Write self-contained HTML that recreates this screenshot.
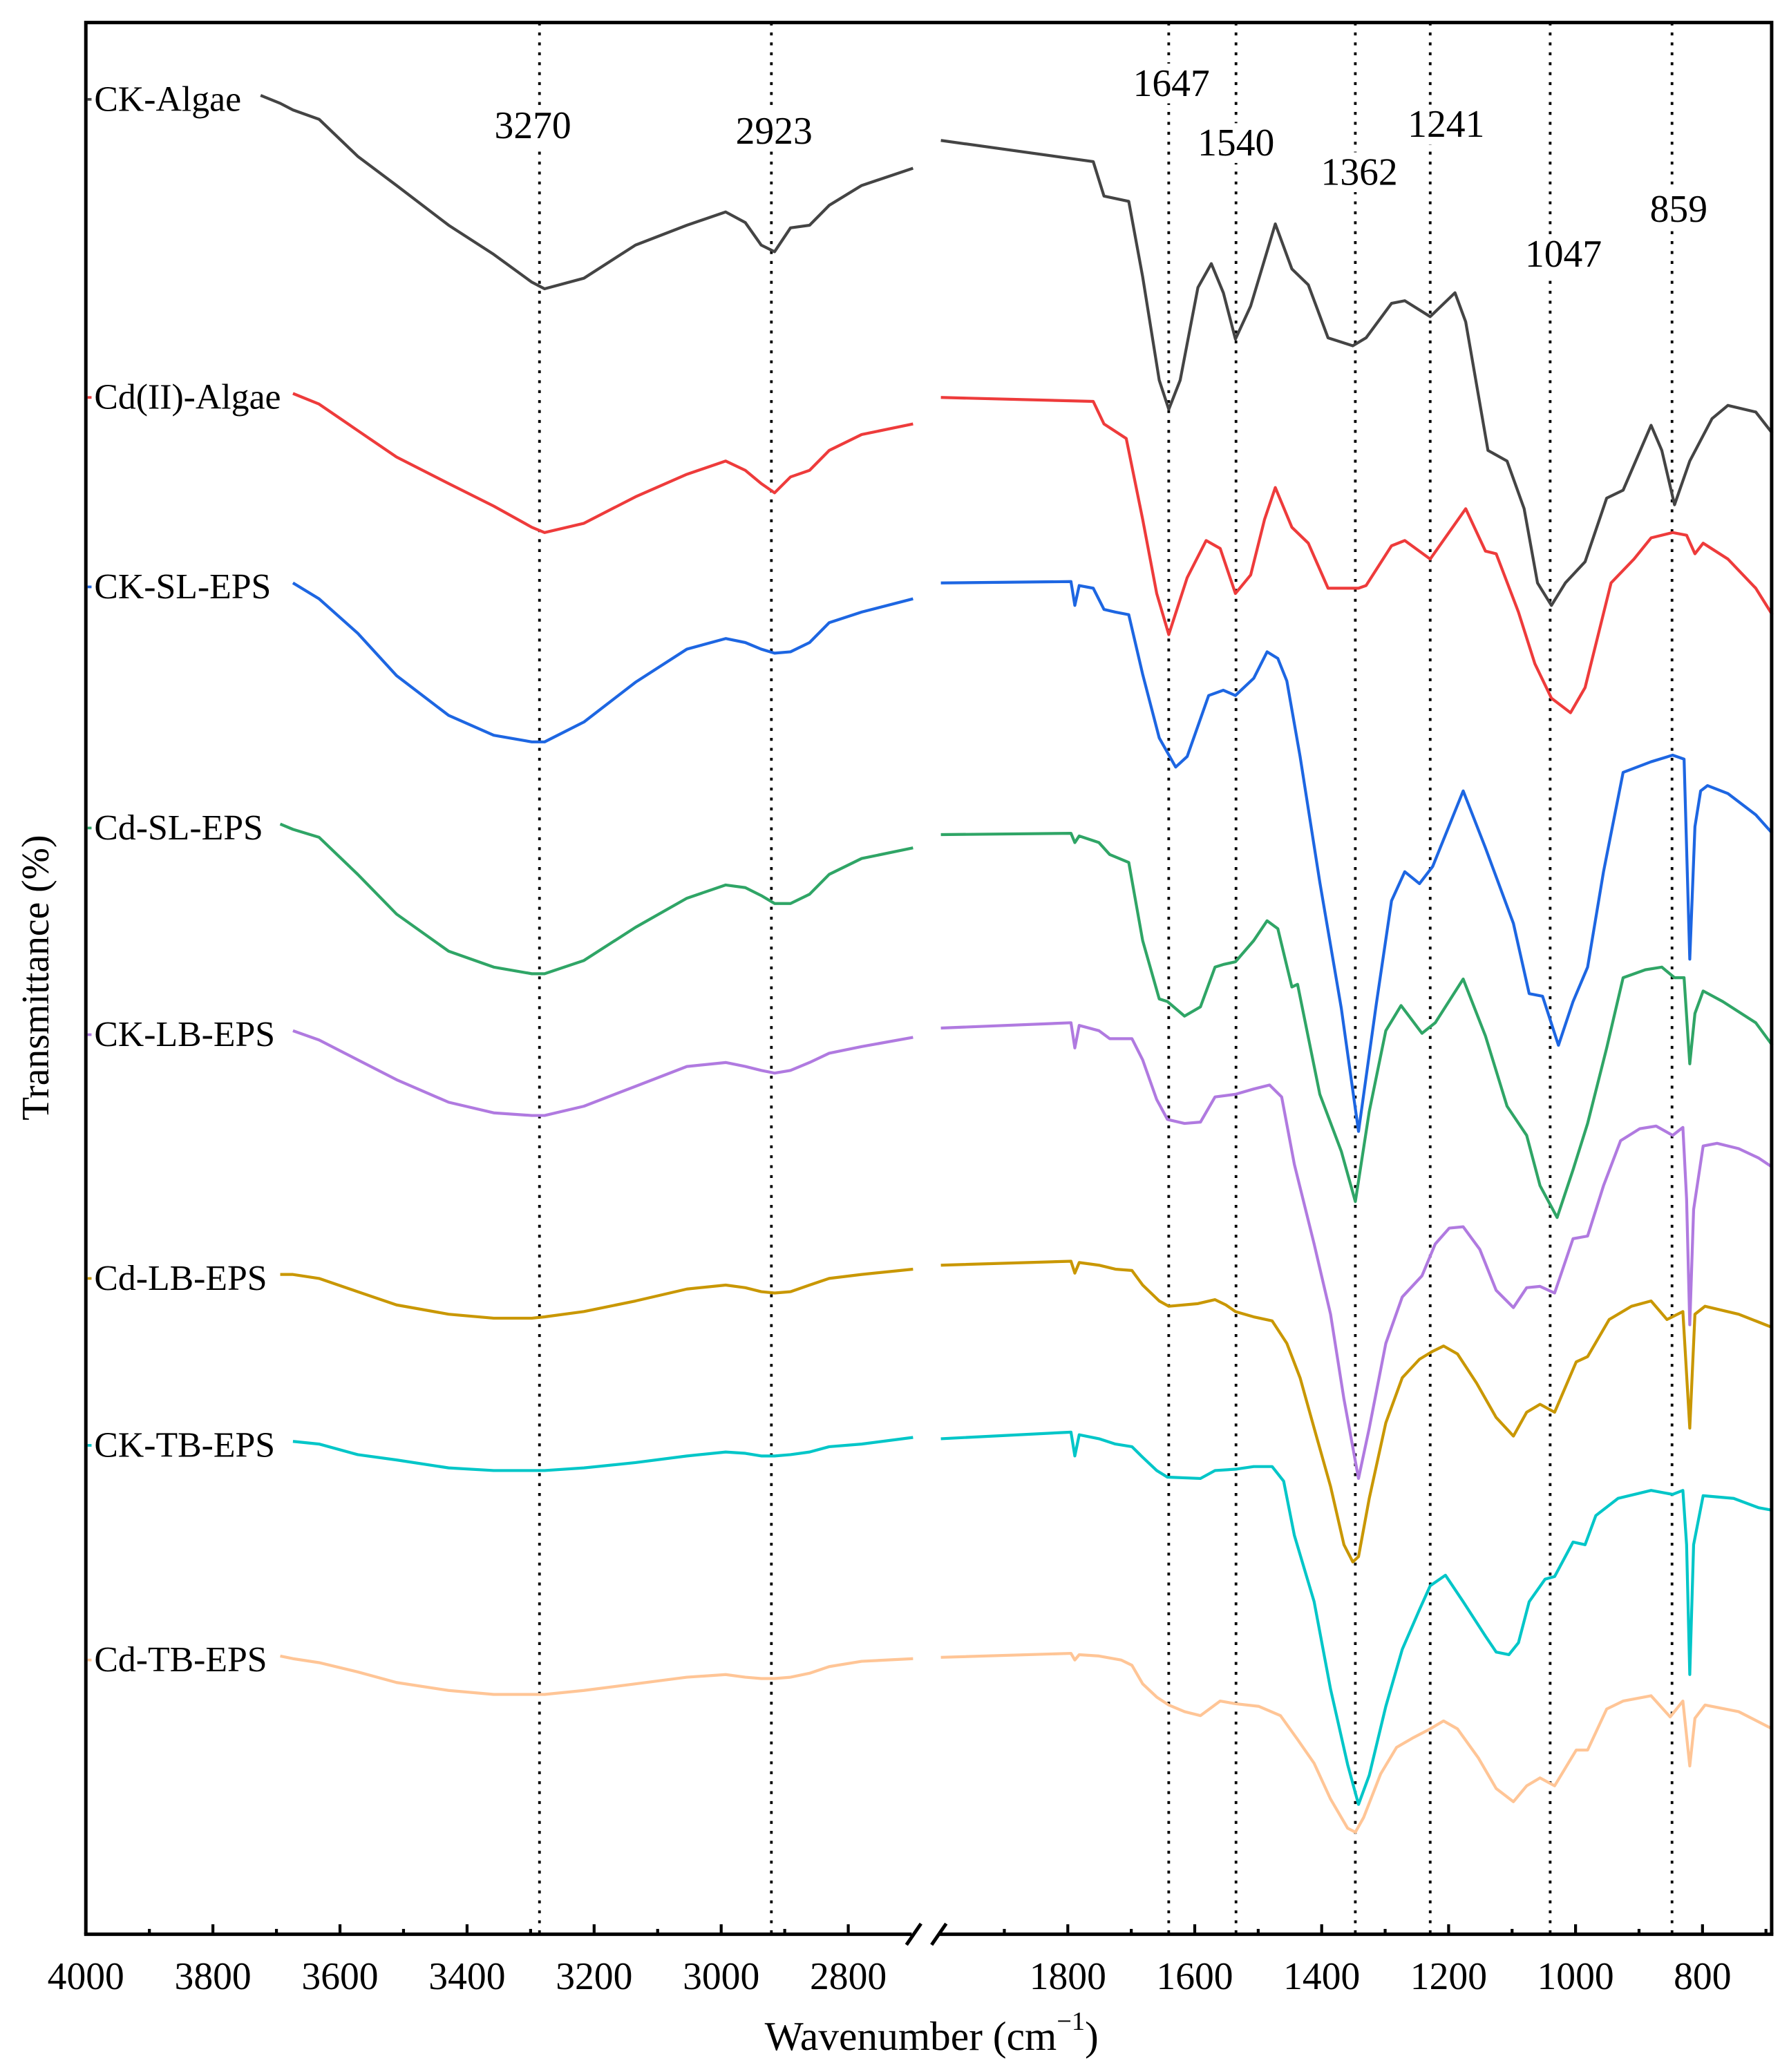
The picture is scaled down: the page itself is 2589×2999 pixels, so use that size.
<!DOCTYPE html>
<html><head><meta charset="utf-8"><style>
html,body{margin:0;padding:0;background:#fff;}
svg{display:block;font-family:"Liberation Serif",serif;}
</style></head><body>
<svg id="chart" width="2589" height="2999" viewBox="0 0 1350 1564" xmlns="http://www.w3.org/2000/svg"></svg>
<script>
// ---- data ----
const seriesNames = ["CK-Algae","Cd(II)-Algae","CK-SL-EPS","Cd-SL-EPS","CK-LB-EPS","Cd-LB-EPS","CK-TB-EPS","Cd-TB-EPS"];
const seriesColors = ["#444444","#ee3b3b","#1d66e2","#2fa566","#b07ae0","#c99700","#00c6c8","#ffc596"];
const wnLeft = [3725,3694,3674,3633,3572,3511,3429,3358,3298,3278,3216,3135,3054,2993,2962,2937,2916,2891,2861,2830,2779,2698];
const ckAlgaeLeft = [1388,1382,1377,1370,1342,1320,1290,1268,1247,1242,1250,1275,1290,1300,1292,1275,1270,1288,1290,1305,1320,1333];
const cdAlgaeLeft = [null,null,1163,1155,1135,1115,1095,1078,1062,1058,1065,1085,1102,1112,1105,1095,1088,1100,1105,1120,1132,1140];
const ckSlLeft = [null,null,1020,1008,982,950,920,905,900,900,915,945,970,978,975,970,967,968,975,990,998,1008];
const cdSlLeft = [null,838,834,828,800,770,742,730,725,725,735,760,782,792,790,784,778,778,785,800,812,820];
const ckLbLeft = [null,null,682,675,660,645,628,620,618,618,625,640,655,658,655,652,650,652,658,665,670,677];
const cdLbLeft = [null,498,498,495,485,475,468,465,465,466,470,478,487,490,488,485,484,485,490,495,498,502];
const ckTbLeft = [null,null,372,370,362,358,352,350,350,350,352,356,361,364,363,361,361,362,364,368,370,375];
const cdTbLeft = [null,210,208,205,198,190,184,181,181,181,184,189,194,196,194,193,193,194,197,202,206,208];

const ckAlgaeWn = [2000,1760,1743,1704,1682,1656,1641,1623,1595,1574,1555,1536,1512,1473,1447,1421,1390,1351,1330,1290,1269,1229,1190,1173,1138,1108,1081,1060,1038,1016,985,951,925,881,864,844,820,785,760,716,690];
const ckAlgaeRight = [1354,1338,1312,1308,1251,1173,1151,1173,1243,1261,1239,1204,1229,1291,1257,1245,1205,1199,1205,1231,1233,1221,1239,1217,1120,1112,1076,1020,1003,1020,1036,1084,1090,1139,1120,1079,1112,1144,1154,1149,1133];
const cdAlgaeWn = [2000,1760,1743,1708,1682,1660,1641,1612,1582,1560,1536,1512,1490,1473,1447,1421,1390,1342,1330,1290,1269,1229,1173,1142,1125,1090,1064,1038,1008,985,944,908,881,847,825,812,799,760,716,690];
const cdAlgaeRight = [1160,1157,1140,1129,1068,1012,981,1024,1052,1046,1012,1026,1068,1092,1062,1050,1016,1016,1018,1048,1052,1038,1076,1044,1042,998,959,933,922,941,1020,1038,1054,1058,1056,1042,1050,1038,1016,996];
const ckSlWn = [2000,1795,1789,1782,1760,1743,1725,1704,1682,1656,1630,1612,1578,1555,1536,1507,1486,1469,1455,1434,1403,1369,1342,1314,1290,1269,1246,1225,1177,1142,1098,1073,1052,1027,1004,981,956,925,881,847,829,820,812,803,792,760,716,690];
const ckSlRight = [1020,1021,1003,1018,1016,1000,998,996,951,903,881,889,935,939,935,948,968,963,946,889,794,699,606,702,780,802,793,806,863,820,763,710,708,671,704,730,802,877,885,890,887,736,836,863,867,861,845,831];
const cdSlWn = [2000,1795,1789,1782,1751,1734,1704,1682,1656,1643,1616,1591,1568,1555,1536,1507,1486,1469,1447,1438,1403,1369,1347,1325,1299,1275,1242,1221,1177,1142,1108,1077,1056,1029,1004,981,951,925,890,864,844,829,820,812,799,768,716,690];
const cdSlRight = [830,831,824,829,824,815,809,750,706,704,693,700,730,732,734,750,765,759,715,717,634,591,553,621,682,701,680,688,721,678,625,603,565,541,577,612,669,722,728,730,722,722,657,695,712,704,688,671];
const ckLbWn = [2000,1795,1789,1782,1751,1734,1699,1682,1660,1643,1616,1591,1568,1536,1507,1482,1463,1443,1412,1386,1365,1342,1325,1299,1273,1242,1221,1199,1177,1151,1125,1098,1077,1056,1033,1004,981,956,929,899,873,847,831,825,820,814,799,777,743,712,690];
const ckLbRight = [684,688,669,686,682,676,676,660,630,615,612,613,632,634,638,641,632,581,521,468,404,344,382,446,481,497,521,533,534,517,486,473,488,489,484,525,527,565,599,608,610,603,609,555,460,547,595,597,593,586,579];
const cdLbWn = [2000,1795,1789,1782,1751,1725,1699,1682,1656,1641,1595,1568,1551,1536,1507,1478,1455,1434,1412,1386,1365,1351,1342,1325,1299,1273,1246,1225,1208,1186,1156,1125,1098,1077,1056,1033,999,981,947,912,881,856,831,820,812,796,743,690];
const cdLbRight = [505,508,499,507,505,502,501,490,478,474,476,479,475,470,466,463,446,420,382,338,294,281,285,329,386,420,434,440,444,438,416,390,376,394,400,394,432,436,464,474,478,464,470,382,468,474,468,458];
const ckTbWn = [2000,1795,1789,1782,1751,1725,1699,1682,1660,1643,1591,1568,1536,1507,1478,1460,1443,1412,1386,1359,1342,1325,1299,1273,1246,1229,1205,1177,1142,1125,1105,1090,1073,1048,1033,1004,985,968,933,881,847,831,825,820,814,799,751,712,690];
const ckTbRight = [374,379,361,377,374,370,368,360,350,345,344,350,351,353,353,342,301,251,185,128,98,120,172,215,245,263,271,251,225,213,211,220,251,268,270,296,294,316,329,335,332,335,294,196,294,331,329,322,320];
const cdTbWn = [2000,1795,1789,1782,1751,1716,1699,1682,1660,1641,1616,1591,1560,1536,1499,1465,1438,1412,1386,1359,1347,1334,1307,1282,1257,1229,1208,1186,1153,1125,1098,1077,1056,1033,999,981,951,925,881,851,831,820,812,796,743,690];
const cdTbRight = [209,212,207,211,210,207,203,189,179,173,168,165,176,174,172,165,147,129,102,80,77,88,121,141,148,155,161,155,133,110,100,112,118,112,139,139,170,176,180,164,176,127,163,173,168,155];

const peakLines = [3286,2921,1641,1535,1347,1229,1040,848];
const peakLabels = ["3270","2923","1647","1540","1362","1241","1047","859"];
const peakLabelY = [95,99,63,108,130,94,192,158];
const peakLabelDx = [-5,2,2,0,3,12,10,5];
const leftTicks = [4000,3800,3600,3400,3200,3000,2800];
const leftMinor = [3900,3700,3500,3300,3100,2900];
const rightTicks = [1800,1600,1400,1200,1000,800];
const rightMinor = [1900,1700,1500,1300,1100,900,700];

// ---- axes ----
const X0 = 64.7, XR = 1337, YT = 17, YB = 1460;
function xL(w){ return X0 + (4000 - w) * 0.4795; }
function xR(w){ return 805.8 + (1800 - w) * 0.479; }
function yS(v){ return YB - v; }

const svg = document.getElementById('chart');
const NS = "http://www.w3.org/2000/svg";
function mk(tag, attrs){ const e=document.createElementNS(NS,tag); for(const k in attrs) e.setAttribute(k,attrs[k]); svg.appendChild(e); return e; }

// peak dotted lines
peakLines.forEach((w,i)=>{
  const x = i < 2 ? xL(w) : xR(w);
  const l = mk('line',{x1:x,x2:x,y1:YT,y2:YB,stroke:'#000','stroke-width':2,'stroke-dasharray':'2.2 5.3'});
  
  
});

// series
const leftData = [ckAlgaeLeft,cdAlgaeLeft,ckSlLeft,cdSlLeft,ckLbLeft,cdLbLeft,ckTbLeft,cdTbLeft];
const rightWn = [ckAlgaeWn,cdAlgaeWn,ckSlWn,cdSlWn,ckLbWn,cdLbWn,ckTbWn,cdTbWn];
const rightData = [ckAlgaeRight,cdAlgaeRight,ckSlRight,cdSlRight,ckLbRight,cdLbRight,ckTbRight,cdTbRight];
seriesNames.forEach((name,i)=>{
  const col = seriesColors[i];
  const pl = [];
  let first = null;
  wnLeft.forEach((w,j)=>{ const v = leftData[i][j]; if(v!==null){ pl.push(xL(w).toFixed(1)+','+yS(v).toFixed(1)); if(first===null) first=[xL(w),yS(v)]; } });
  const p1 = mk('polyline',{points:pl.join(' '),fill:'none',stroke:col,'stroke-width':2.2,'stroke-linejoin':'round'});
  
  
  const pr = rightWn[i].map((w,j)=> xR(w).toFixed(1)+','+yS(rightData[i][j]).toFixed(1));
  const p2 = mk('polyline',{points:pr.join(' '),fill:'none',stroke:col,'stroke-width':2.2,'stroke-linejoin':'round'});
  
  
  const d = mk('line',{x1:66,x2:69,y1:first[1]+3,y2:first[1]+3,stroke:col,'stroke-width':2});
  
  
  const t = mk('text',{x:71,y:first[1]+3,'font-size':27,'dominant-baseline':'central',fill:'#000'});
  t.textContent = name;
  
  
});

// peak labels with white background
peakLines.forEach((w,i)=>{
  const x = (i < 2 ? xL(w) : xR(w)) + peakLabelDx[i];
  const r = mk('rect',{x:x-32,y:peakLabelY[i]-15,width:64,height:30,fill:'#fff'});
  
  
  const t = mk('text',{x:x,y:peakLabelY[i],'font-size':29,'text-anchor':'middle','dominant-baseline':'central',fill:'#000'});
  t.textContent = peakLabels[i];
  
  
});

// frame
const fr = mk('path',{d:`M${X0},${YB} L${X0},${YT} L${XR},${YT} L${XR},${YB}`,fill:'none',stroke:'#000','stroke-width':2.6});


const ax1 = mk('line',{x1:X0-1.3,x2:688,y1:YB,y2:YB,stroke:'#000','stroke-width':2.6});


const ax2 = mk('line',{x1:708,x2:XR+1.3,y1:YB,y2:YB,stroke:'#000','stroke-width':2.6});


[[684,695],[703,714]].forEach(([a,b])=>{
  const s = mk('line',{x1:a,y1:YB+8,x2:b,y2:YB-8,stroke:'#000','stroke-width':2.6});
  
  
});

function tick(x,len){ const l=mk('line',{x1:x,x2:x,y1:YB,y2:YB-len,stroke:'#000','stroke-width':2.2});
  
   }
function tlabel(x,s){ const t=mk('text',{x:x,y:1492,'font-size':29,'text-anchor':'middle','dominant-baseline':'central',fill:'#000'}); t.textContent=s;
  
   }
leftTicks.forEach(w=>{ tick(xL(w),7.5); tlabel(xL(w), String(w)); });
leftMinor.forEach(w=>tick(xL(w),4));
rightTicks.forEach(w=>{ tick(xR(w),7.5); tlabel(xR(w), String(w)); });
rightMinor.forEach(w=>tick(xR(w),4));

const xt = mk('text',{x:703,y:1537,'font-size':31,'text-anchor':'middle','dominant-baseline':'central',fill:'#000'});
xt.innerHTML = 'Wavenumber (cm<tspan dy="-11" font-size="20">−1</tspan><tspan dy="11">)</tspan>';


const yt = mk('text',{x:27,y:738,'font-size':29,'text-anchor':'middle','dominant-baseline':'central',fill:'#000',transform:'rotate(-90 27 738)'});
yt.textContent = 'Transmittance (%)';


</script>
</body></html>
